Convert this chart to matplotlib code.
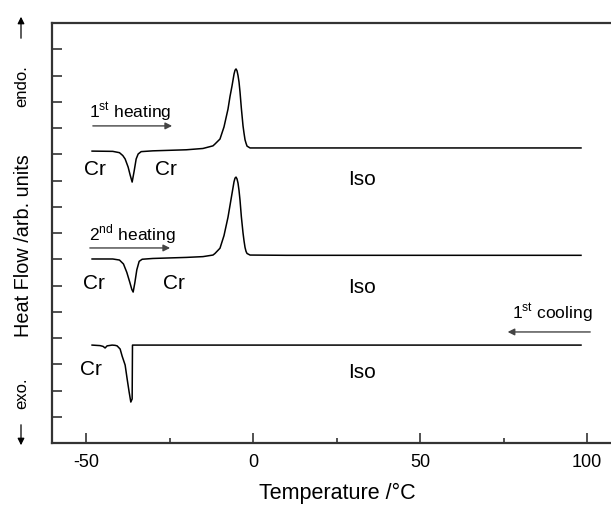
import numpy as np
import matplotlib
matplotlib.use("Agg")
import matplotlib.pyplot as plt
from matplotlib.ticker import MultipleLocator

plt.rcParams['font.family'] = ['Liberation Sans', 'DejaVu Sans']
plt.rcParams['mathtext.fontset'] = 'custom'
plt.rcParams['mathtext.rm'] = 'Liberation Sans'
plt.rcParams['axes.unicode_minus'] = False

# ===============================
# DATA
# ===============================
heat1_T = [-48.2, -42, -40, -39, -38.3, -37.4, -36.8, -36.2, -35.6, -35.0, -34.4, -33.5,
           -30, -25, -20, -15, -12, -11.4, -9.9, -8.7, -7.5, -6.9, -6.3, -5.7, -5.4, -5.1,
           -4.8, -4.5, -4.2, -3.9, -3.5, -3.0, -2.7, -2.4, -2.1, -1.8, -0.9, 10, 98.2]
heat1_y = [11.12, 11.11, 11.06, 10.95, 10.82, 10.51, 10.21, 9.94, 10.36, 10.82, 11.01, 11.10,
           11.13, 11.15, 11.17, 11.22, 11.32, 11.39, 11.58, 12.04, 12.72, 13.20, 13.60, 14.05, 14.20, 14.25,
           14.18, 14.0, 13.75, 13.37, 12.75, 12.08, 11.80, 11.55, 11.42, 11.31, 11.24, 11.24, 11.24]

heat2_T = [-48.2, -42, -40, -38.8, -37.8, -36.9, -36.3, -35.9, -35.4, -34.8, -34.1, -33.2,
           -30, -25, -20, -15, -12, -11.4, -9.9, -8.7, -7.5, -6.9, -6.3, -5.7, -5.4, -5.1,
           -4.8, -4.5, -4.2, -3.9, -3.5, -3.0, -2.7, -2.4, -2.1, -1.8, -0.9, 10, 98.2]
heat2_y = [7.01, 7.01, 6.97, 6.82, 6.50, 6.12, 5.85, 5.75, 6.10, 6.60, 6.92, 7.00,
           7.03, 7.05, 7.07, 7.10, 7.16, 7.22, 7.42, 7.90, 8.60, 9.05, 9.50, 9.95, 10.09, 10.13,
           10.06, 9.90, 9.62, 9.25, 8.62, 8.00, 7.70, 7.45, 7.30, 7.22, 7.16, 7.15, 7.15]

cool_T = [-48.2, -45.8, -44.9, -44.3, -43.7, -42.2, -41.3, -40.7, -39.8, -39.2, -38.3,
          -37.7, -37.1, -36.6, -36.2, -36.1, 98.2]
cool_y = [3.73, 3.71, 3.68, 3.62, 3.70, 3.73, 3.72, 3.70, 3.58, 3.31, 2.97,
          2.44, 1.94, 1.56, 1.68, 3.73, 3.73]

x_ticks = [-50, 0, 50, 100]

# ===============================
# FIGURE
# ===============================
fig = plt.figure(figsize=(6.11, 5.06), dpi=100)
# axes is wider than the figure: the right part is cropped like the original
ax = fig.add_axes([52 / 611, 1 - 444 / 506, 568.4 / 611, 420 / 506])

for T, y in [(heat1_T, heat1_y), (heat2_T, heat2_y), (cool_T, cool_y)]:
    ax.plot(T, y, color='black', lw=1.1)

ax.set_xlim(-60.2, 110)
ax.set_ylim(0, 16)
ax.set_xticks(x_ticks)
ax.xaxis.set_minor_locator(MultipleLocator(25))
ax.set_yticks(np.arange(1, 16))
ax.set_yticklabels([])
ax.tick_params(direction='in', length=7, width=1.2, color='#333333', labelsize=13, pad=7)
ax.tick_params(which='minor', direction='in', length=3.5, width=1.2, color='#333333')
ax.spines['right'].set_visible(False)
for s in ['left', 'top', 'bottom']:
    ax.spines[s].set_linewidth(1.6)
    ax.spines[s].set_color('#333333')

fig.text(337 / 611, 1 - 493 / 506, 'Temperature /°C', ha='center', va='center', fontsize=15.5)
fig.text(24 / 611, 1 - 246 / 506, 'Heat Flow /arb. units', rotation=90,
         ha='center', va='center', fontsize=14.3)
fig.text(22 / 611, 1 - 86 / 506, 'endo.', rotation=90, ha='center', va='center', fontsize=12)
fig.text(22 / 611, 1 - 393 / 506, 'exo.', rotation=90, ha='center', va='center', fontsize=12)
fig.add_artist(matplotlib.patches.FancyArrowPatch(
    (21 / 611, 1 - 42 / 506), (21 / 611, 1 - 15 / 506), transform=fig.transFigure,
    arrowstyle='-|>', mutation_scale=10, color='black', lw=0.9))
fig.add_artist(matplotlib.patches.FancyArrowPatch(
    (21 / 611, 1 - 423 / 506), (21 / 611, 1 - 449 / 506), transform=fig.transFigure,
    arrowstyle='-|>', mutation_scale=10, color='black', lw=0.9))

# ===============================
# ANNOTATIONS
# ===============================
lab = dict(fontsize=15, va='baseline', ha='left')
ax.text(-49.1, 12.42, '1$^{\\rm st}$ heating', fontsize=12.5, va='baseline')
ax.text(-49.1, 7.77, '2$^{\\rm nd}$ heating', fontsize=12.5, va='baseline')
ax.text(77.5, 4.76, '1$^{\\rm st}$ cooling', fontsize=12.5, va='baseline')

arr = dict(arrowstyle='-|>', color='#444444', lw=1.0, mutation_scale=10)
ax.annotate('', xy=(-23.4, 12.08), xytext=(-48.8, 12.08), arrowprops=arr)
ax.annotate('', xy=(-24.0, 7.43), xytext=(-49.7, 7.43), arrowprops=arr)
ax.annotate('', xy=(75.4, 4.23), xytext=(101.8, 4.23), arrowprops=arr)

ax.text(-50.6, 10.25, 'Cr', **lab)
ax.text(-29.3, 10.25, 'Cr', **lab)
ax.text(28.4, 9.87, 'Iso', **lab)
ax.text(-50.9, 5.90, 'Cr', **lab)
ax.text(-26.9, 5.90, 'Cr', **lab)
ax.text(28.4, 5.75, 'Iso', **lab)
ax.text(-51.8, 2.63, 'Cr', **lab)
ax.text(28.4, 2.51, 'Iso', **lab)

fig.savefig('out.png', dpi=100)
